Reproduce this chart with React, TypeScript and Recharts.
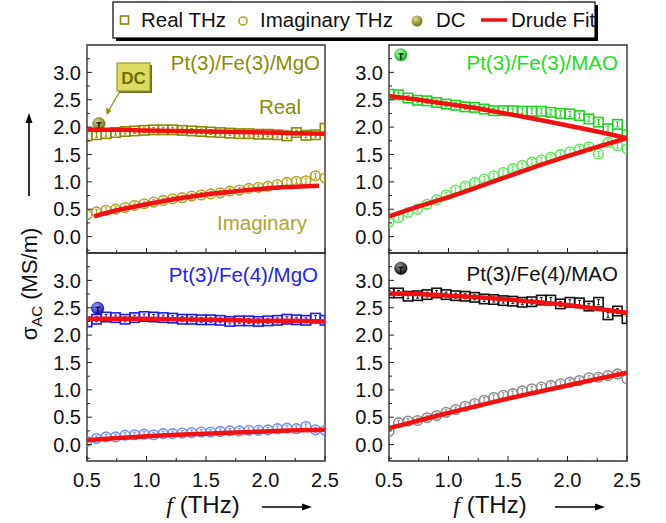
import React from 'react'
import { ComposedChart, Line, XAxis, YAxis, ReferenceArea } from 'recharts'

// frequency grid of the THz points
const freq = [0.5, 0.58, 0.66, 0.74, 0.82, 0.9, 0.98, 1.06, 1.14, 1.22, 1.3, 1.38, 1.46, 1.54, 1.62, 1.7, 1.78, 1.86, 1.94, 2.02, 2.1, 2.18, 2.26, 2.34, 2.42, 2.5]
const fitFreq = [0.5, 0.75, 1.0, 1.25, 1.5, 1.75, 2.0, 2.25, 2.5]
const fitFreqShort = [0.56, 0.75, 1.0, 1.25, 1.5, 1.75, 2.0, 2.25, 2.45]

const mgo3Real = [1.84, 1.86, 1.88, 1.9, 1.92, 1.93, 1.94, 1.95, 1.95, 1.95, 1.94, 1.93, 1.92, 1.91, 1.9, 1.89, 1.88, 1.88, 1.87, 1.87, 1.86, 1.84, 1.9, 1.85, 1.86, 1.98]
const mgo3Imag = [0.4, 0.45, 0.48, 0.5, 0.53, 0.57, 0.6, 0.63, 0.66, 0.69, 0.71, 0.74, 0.76, 0.78, 0.8, 0.83, 0.85, 0.88, 0.9, 0.92, 0.95, 0.99, 1.01, 1.02, 1.11, 1.07]
const mgo3FitReal = [1.95, 1.95, 1.94, 1.93, 1.92, 1.91, 1.9, 1.89, 1.88]
const mgo3FitImag = [0.37, 0.48, 0.59, 0.69, 0.77, 0.83, 0.88, 0.91, 0.93]

const mao3Real = [2.6, 2.59, 2.53, 2.49, 2.48, 2.45, 2.42, 2.4, 2.37, 2.36, 2.33, 2.3, 2.3, 2.3, 2.29, 2.29, 2.29, 2.27, 2.25, 2.24, 2.21, 2.15, 2.09, 1.97, 2.05, 1.86]
const mao3Imag = [0.26, 0.35, 0.44, 0.5, 0.59, 0.67, 0.76, 0.85, 0.92, 0.99, 1.05, 1.11, 1.17, 1.24, 1.3, 1.36, 1.4, 1.45, 1.5, 1.55, 1.6, 1.64, 1.51, 1.72, 1.66, 1.6]
const mao3FitReal = [2.57, 2.5, 2.42, 2.34, 2.24, 2.14, 2.03, 1.92, 1.8]
const mao3FitImag = [0.37, 0.55, 0.72, 0.91, 1.1, 1.29, 1.47, 1.64, 1.8]

const mgo4Real = [2.24, 2.29, 2.33, 2.32, 2.29, 2.32, 2.34, 2.33, 2.32, 2.31, 2.29, 2.29, 2.28, 2.28, 2.27, 2.25, 2.26, 2.26, 2.25, 2.26, 2.27, 2.29, 2.28, 2.27, 2.31, 2.27]
const mgo4Imag = [0.06, 0.11, 0.14, 0.14, 0.17, 0.18, 0.19, 0.18, 0.2, 0.2, 0.21, 0.22, 0.23, 0.23, 0.24, 0.25, 0.25, 0.26, 0.26, 0.27, 0.29, 0.3, 0.29, 0.33, 0.27, 0.26]
const mgo4FitReal = [2.3, 2.3, 2.3, 2.29, 2.28, 2.27, 2.26, 2.26, 2.25]
const mgo4FitImag = [0.08, 0.12, 0.15, 0.18, 0.2, 0.22, 0.24, 0.26, 0.27]

const mao4Real = [2.77, 2.77, 2.71, 2.72, 2.74, 2.77, 2.74, 2.72, 2.71, 2.69, 2.66, 2.65, 2.63, 2.62, 2.6, 2.61, 2.64, 2.64, 2.57, 2.6, 2.59, 2.53, 2.6, 2.37, 2.44, 2.3]
const mao4Imag = [0.24, 0.4, 0.43, 0.44, 0.49, 0.53, 0.59, 0.64, 0.7, 0.75, 0.81, 0.86, 0.9, 0.93, 0.98, 1.02, 1.05, 1.08, 1.11, 1.14, 1.17, 1.22, 1.23, 1.26, 1.29, 1.2]
const mao4FitReal = [2.76, 2.75, 2.72, 2.69, 2.65, 2.6, 2.55, 2.48, 2.41]
const mao4FitImag = [0.3, 0.44, 0.58, 0.71, 0.84, 0.96, 1.08, 1.2, 1.31]

const dcFreq = [0.6, 0.6, 0.59, 0.6]
const dcValue = [2.06, 3.32, 2.49, 3.22]

const xTicks = [0.5, 0.75, 1.0, 1.25, 1.5, 1.75, 2.0, 2.25, 2.5]
const yTicks = [-0.25, 0, 0.25, 0.5, 0.75, 1.0, 1.25, 1.5, 1.75, 2.0, 2.25, 2.5, 2.75, 3.0, 3.25]

const FONT = '"Liberation Sans", Arial, sans-serif'
const RED = '#f21010'
const PLOT_W = 238
const PLOT_H = 208
const PLOT_LEFT = 87

const pts = (xs: number[], vs: number[]) => xs.map((f, i) => ({ f, v: vs[i] }))
const isMajor = (v: number) => Math.abs(v * 2 - Math.round(v * 2)) < 1e-6

function ErrTick({ cx, cy, color }: any) {
  return (
    <g stroke={color} strokeWidth={1}>
      <line x1={cx} y1={cy - 2.5} x2={cx} y2={cy + 2.5} />
      <line x1={cx - 1.5} y1={cy - 2.5} x2={cx + 1.5} y2={cy - 2.5} />
      <line x1={cx - 1.5} y1={cy + 2.5} x2={cx + 1.5} y2={cy + 2.5} />
    </g>
  )
}

const squareDot = (color: string) => (p: any) => (
  <g key={`s${p.index}`}>
    <rect x={p.cx - 4.7} y={p.cy - 4.7} width={9.4} height={9.4} fill="none" stroke={color} strokeWidth={1.6} />
    <ErrTick cx={p.cx} cy={p.cy} color={color} />
  </g>
)

const circleDot = (color: string) => (p: any) => (
  <g key={`c${p.index}`}>
    <circle cx={p.cx} cy={p.cy} r={4.8} fill="none" stroke={color} strokeWidth={1.6} />
    <ErrTick cx={p.cx} cy={p.cy} color={color} />
  </g>
)

function Ball({ cx, cy, id, base, hi }: any) {
  return (
    <g>
      <defs>
        <radialGradient id={id} cx="38%" cy="32%" r="70%">
          <stop offset="0%" stopColor={hi} />
          <stop offset="100%" stopColor={base} />
        </radialGradient>
      </defs>
      <circle cx={cx} cy={cy} r={6.2} fill={`url(#${id})`} stroke={base} strokeWidth={0.6} />
      <line x1={cx - 2.5} y1={cy - 1} x2={cx + 2.5} y2={cy - 1} stroke="#000" strokeWidth={1.2} />
      <line x1={cx} y1={cy - 1} x2={cx} y2={cy + 5} stroke="#000" strokeWidth={1.2} />
    </g>
  )
}

const dcDot = (id: string, base: string, hi: string) => (p: any) => (
  <Ball key={`d${p.index}`} cx={p.cx} cy={p.cy} id={id} base={base} hi={hi} />
)

function Panel({ idx, left, top, row, real, imag, fitReal, fitImag, fitImagX, realColor, imagColor, ballBase, ballHi }: any) {
  const mTop = row === 0 ? 45 : 10
  const xH = row === 0 ? 6 : 40
  const mBottom = row === 0 ? 0 : 22
  const mRight = 22
  const yW = 50
  const mLeft = PLOT_LEFT - yW
  const plotBottom = mTop + PLOT_H
  const showX = row === 1

  const yTick = (p: any) => {
    const v = p.payload.value
    const major = isMajor(v) && v >= 0 && v <= 3
    return (
      <g>
        <line x1={PLOT_LEFT} y1={p.y} x2={PLOT_LEFT + (major ? 5 : 3)} y2={p.y} stroke="#222" strokeWidth={1} />
        {major && (
          <text x={PLOT_LEFT - 6} y={p.y} dy="0.36em" textAnchor="end" fontSize={20} fontFamily={FONT} fill="#111">
            {v.toFixed(1)}
          </text>
        )}
      </g>
    )
  }
  const xTick = (p: any) => {
    const v = p.payload.value
    const major = isMajor(v)
    return (
      <g>
        <line x1={p.x} y1={plotBottom} x2={p.x} y2={plotBottom - (major ? 5 : 3)} stroke="#222" strokeWidth={1} />
        {showX && major && (
          <text x={p.x} y={plotBottom + 26} textAnchor="middle" fontSize={20} fontFamily={FONT} fill="#111">
            {v.toFixed(1)}
          </text>
        )}
      </g>
    )
  }

  return (
    <div style={{ position: 'absolute', left, top }}>
      <ComposedChart width={PLOT_LEFT + PLOT_W + mRight} height={mTop + PLOT_H + xH + mBottom} margin={{ top: mTop, right: mRight, bottom: mBottom, left: mLeft }}>
        <XAxis type="number" dataKey="f" domain={[0.5, 2.5]} allowDataOverflow ticks={xTicks} interval={0} height={xH} tick={xTick} tickLine={false} axisLine={false} />
        <YAxis type="number" domain={[-0.3, 3.5]} allowDataOverflow ticks={yTicks} interval={0} width={yW} tick={yTick} tickLine={false} axisLine={false} />
        <Line data={pts(freq, real)} dataKey="v" stroke="none" dot={squareDot(realColor)} activeDot={false} isAnimationActive={false} />
        <Line data={pts(freq, imag)} dataKey="v" stroke="none" dot={circleDot(imagColor)} activeDot={false} isAnimationActive={false} />
        <Line data={pts(fitFreq, fitReal)} dataKey="v" type="monotone" stroke={RED} strokeWidth={4.5} dot={false} activeDot={false} isAnimationActive={false} {...({ zIndex: 700 } as any)} />
        <Line data={pts(fitImagX, fitImag)} dataKey="v" type="monotone" stroke={RED} strokeWidth={4.5} dot={false} activeDot={false} isAnimationActive={false} {...({ zIndex: 700 } as any)} />
        <Line data={[{ f: dcFreq[idx], v: dcValue[idx] }]} dataKey="v" stroke="none" dot={dcDot(`dcball${idx}`, ballBase, ballHi)} activeDot={false} isAnimationActive={false} />
        <ReferenceArea x1={0.5} x2={2.5} y1={-0.3} y2={3.5} fill="none" fillOpacity={0} stroke="#333" strokeWidth={1.4} />
      </ComposedChart>
    </div>
  )
}

function Arrow({ x1, y1, x2, y2 }: any) {
  // arrow pointing from (x1,y1) to (x2,y2)
  const a = Math.atan2(y2 - y1, x2 - x1)
  const L = 10
  const W = 3.5
  const bx = x2 - L * Math.cos(a)
  const by = y2 - L * Math.sin(a)
  const px = -Math.sin(a) * W
  const py = Math.cos(a) * W
  return (
    <g>
      <line x1={x1} y1={y1} x2={bx} y2={by} stroke="#000" strokeWidth={1.6} />
      <polygon points={`${x2},${y2} ${bx + px},${by + py} ${bx - px},${by - py}`} fill="#000" />
    </g>
  )
}

function Overlay() {
  const olive = '#8c8c00'
  return (
    <svg width={666} height={523} style={{ position: 'absolute', left: 0, top: 0, pointerEvents: 'none' }} fontFamily={FONT}>
      <defs>
        <radialGradient id="legball" cx="38%" cy="32%" r="70%">
          <stop offset="0%" stopColor="#d8d890" />
          <stop offset="100%" stopColor="#6e6e08" />
        </radialGradient>
      </defs>
      {/* legend */}
      <rect x={116} y={5} width={482} height={36} fill="#000" />
      <rect x={113} y={2} width={482} height={36} fill="#fff" stroke="#000" strokeWidth={1.2} />
      <rect x={120.5} y={16} width={8} height={8} fill="none" stroke={olive} strokeWidth={1.6} />
      <text x={141} y={27} fontSize={20.5} fill="#111">Real THz</text>
      <circle cx={243} cy={21} r={4} fill="none" stroke="#b0a52a" strokeWidth={1.6} />
      <text x={260} y={27} fontSize={20.5} fill="#111">Imaginary THz</text>
      <circle cx={417} cy={21} r={5.5} fill="url(#legball)" />
      <text x={436} y={27} fontSize={20.5} fill="#111">DC</text>
      <line x1={481} y1={20} x2={507} y2={20} stroke={RED} strokeWidth={3.5} />
      <text x={511} y={27} fontSize={20.5} fill="#111">Drude Fit</text>

      {/* panel titles */}
      <text x={320} y={70} textAnchor="end" fontSize={20.5} fill={olive}>Pt(3)/Fe(3)/MgO</text>
      <text x={618} y={70} textAnchor="end" fontSize={20.5} fill="#22dd22">Pt(3)/Fe(3)/MAO</text>
      <text x={318} y={282} textAnchor="end" fontSize={20.5} fill="#2222ee">Pt(3)/Fe(4)/MgO</text>
      <text x={618} y={281} textAnchor="end" fontSize={20.5} fill="#111">Pt(3)/Fe(4)/MAO</text>
      <text x={280} y={114} textAnchor="middle" fontSize={20.5} fill={olive}>Real</text>
      <text x={262} y={230} textAnchor="middle" fontSize={20.5} fill="#b0a530">Imaginary</text>

      {/* DC callout */}
      <line x1={120} y1={91} x2={108.5} y2={111} stroke={olive} strokeWidth={1.2} />
      <polygon points="106.5,115 106.2,107.8 111.5,110.8" fill={olive} />
      <rect x={119} y={65} width={33} height={28} fill="#6c6c20" />
      <rect x={117} y={63} width={33} height={28} fill="#dcdc64" stroke="#9a9a30" strokeWidth={1.2} />
      <text x={133.5} y={84} textAnchor="middle" fontSize={17} fontWeight="bold" fill="#6e6e00">DC</text>

      {/* y title */}
      <text transform="translate(37,284) rotate(-90)" textAnchor="middle" fontSize={22} fill="#111">
        σ<tspan fontSize={15} dy={5}>AC</tspan>
        <tspan dy={-5}> (MS/m)</tspan>
      </text>
      <Arrow x1={29} y1={196} x2={29} y2={113} />

      {/* x titles */}
      <text x={203} y={513} textAnchor="middle" fontSize={24} fill="#111">
        <tspan fontFamily='"Liberation Serif", serif' fontStyle="italic">f</tspan> (THz)
      </text>
      <Arrow x1={262} y1={507} x2={312} y2={507} />
      <text x={490} y={513} textAnchor="middle" fontSize={24} fill="#111">
        <tspan fontFamily='"Liberation Serif", serif' fontStyle="italic">f</tspan> (THz)
      </text>
      <Arrow x1={555} y1={507} x2={605} y2={507} />
    </svg>
  )
}

export default function App() {
  return (
    <div style={{ position: 'absolute', left: 0, top: 0, width: 666, height: 523, background: '#fff', overflow: 'hidden' }}>
      <Panel idx={0} left={0} top={0} row={0} real={mgo3Real} imag={mgo3Imag} fitReal={mgo3FitReal} fitImag={mgo3FitImag} fitImagX={fitFreqShort}
        realColor="#8a8a00" imagColor="#b0a52a" ballBase="#6e6e08" ballHi="#d8d890" />
      <Panel idx={1} left={302} top={0} row={0} real={mao3Real} imag={mao3Imag} fitReal={mao3FitReal} fitImag={mao3FitImag} fitImagX={fitFreq}
        realColor="#1ed21e" imagColor="#5ee85e" ballBase="#12b012" ballHi="#b8ffb8" />
      <Panel idx={2} left={0} top={243} row={1} real={mgo4Real} imag={mgo4Imag} fitReal={mgo4FitReal} fitImag={mgo4FitImag} fitImagX={fitFreq}
        realColor="#1c1cf0" imagColor="#7090f0" ballBase="#1010b8" ballHi="#a0a0ff" />
      <Panel idx={3} left={302} top={243} row={1} real={mao4Real} imag={mao4Imag} fitReal={mao4FitReal} fitImag={mao4FitImag} fitImagX={fitFreq}
        realColor="#111111" imagColor="#8c8c8c" ballBase="#0a0a0a" ballHi="#9a9a9a" />
      <Overlay />
    </div>
  )
}
